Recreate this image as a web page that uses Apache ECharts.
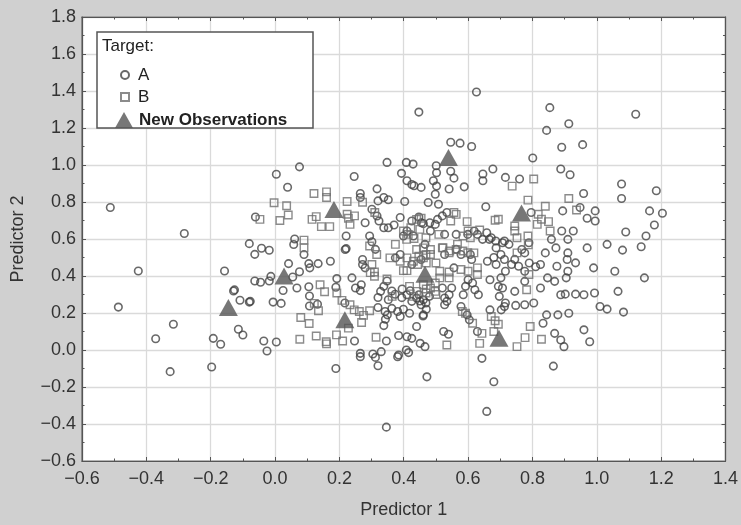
<!DOCTYPE html>
<html><head><meta charset="utf-8">
<script src="https://cdn.jsdelivr.net/npm/echarts@6/dist/echarts.min.js"></script>
<style>html,body{margin:0;padding:0;background:#d0d0d0}#c{width:741px;height:525px}</style>
</head><body><div id="c"></div>
<script>
const xTicks = [-0.6,-0.4,-0.2,0.0,0.2,0.4,0.6,0.8,1.0,1.2,1.4];
const yTicks = [-0.6,-0.4,-0.2,0.0,0.2,0.4,0.6,0.8,1.0,1.2,1.4,1.6,1.8];
const seriesNames = ['A','B','New Observations'];

const targetA = [
[-0.512,0.77],[-0.282,0.63],[-0.425,0.427],[-0.487,0.232],[-0.316,0.139],[-0.371,0.061],[-0.326,-0.117],[-0.197,-0.092],[-0.192,0.063],[-0.169,0.031],[-0.157,0.427],[-0.129,0.319],[-0.126,0.325],[-0.109,0.269],[-0.08,0.259],[-0.077,0.263],[-0.114,0.112],[-0.1,0.081],[-0.08,0.575],[-0.063,0.517],[-0.042,0.55],[-0.018,0.539],[-0.063,0.373],[-0.045,0.366],[-0.018,0.373],[-0.013,0.398],[-0.006,0.259],[-0.035,0.049],[-0.025,-0.005],[0.004,0.043],[-0.061,0.719],[0.004,0.95],
[0.039,0.88],[0.076,0.99],[0.061,0.60],[0.058,0.57],[0.09,0.516],[0.042,0.467],[0.055,0.395],[0.025,0.322],[0.019,0.252],[0.068,0.335],[0.105,0.467],[0.108,0.444],[0.134,0.467],[0.172,0.48],[0.105,0.342],[0.107,0.292],[0.107,0.238],[0.132,0.247],[0.192,0.386],[0.189,0.339],[0.189,-0.1],[0.076,0.423],
[0.246,0.938],[0.265,0.846],[0.265,0.824],[0.317,0.871],[0.32,0.806],[0.338,0.824],[0.352,0.812],[0.301,0.761],[0.221,0.616],[0.218,0.543],[0.221,0.548],[0.28,0.688],[0.294,0.616],[0.301,0.585],[0.323,0.697],[0.338,0.661],[0.352,0.661],[0.37,0.676],[0.272,0.489],[0.272,0.462],[0.28,0.444],[0.239,0.39],[0.25,0.335],[0.265,0.321],[0.268,0.353],[0.328,0.317],[0.338,0.344],[0.374,0.498],[0.389,0.516],[0.217,0.254],[0.32,0.284],[0.32,0.23],[0.342,0.208],[0.349,0.19],[0.247,0.049],[0.338,0.132],[0.346,0.049],[0.265,-0.018],[0.265,-0.036],[0.304,-0.022],[0.32,-0.085],[0.33,-0.009],[0.384,0.078],[0.384,-0.027],[0.346,-0.417],[0.348,1.014],[0.403,0.803],[0.389,0.716],[0.352,0.272],[0.381,0.208],[0.389,0.181],
[0.317,0.724],[0.312,0.544],[0.343,0.166],[0.312,-0.04],[0.399,0.22],[0.363,0.225],[0.348,0.373],[0.363,0.319],[0.373,0.301],[0.394,0.283],
[0.408,1.014],[0.429,1.005],[0.393,0.955],[0.41,0.915],[0.432,0.888],[0.454,0.879],[0.447,1.286],[0.492,0.915],[0.501,0.996],[0.498,0.842],[0.476,0.797],[0.508,0.788],[0.546,0.966],[0.556,0.929],[0.546,1.123],[0.575,1.118],[0.611,1.1],[0.541,0.87],[0.588,0.882],[0.646,0.915],[0.646,0.951],[0.677,0.978],[0.626,1.395],[0.425,0.697],[0.447,0.719],[0.461,0.683],[0.41,0.643],[0.399,0.616],[0.483,0.643],[0.505,0.706],[0.52,0.725],[0.534,0.743],[0.498,0.679],[0.527,0.625],[0.563,0.625],[0.629,0.625],[0.658,0.634],[0.672,0.607],[0.425,0.462],[0.454,0.489],[0.527,0.516],[0.578,0.516],[0.607,0.516],[0.611,0.489],[0.556,0.444],[0.6,0.38],[0.592,0.344],[0.614,0.362],[0.621,0.326],[0.632,0.299],[0.585,0.299],[0.41,0.299],[0.52,0.335],[0.447,0.299],[0.44,0.281],[0.461,0.272],[0.454,0.245],[0.469,0.254],[0.425,0.263],[0.418,0.199],[0.461,0.19],[0.527,0.245],[0.541,0.299],[0.549,0.335],[0.527,0.281],[0.534,0.263],[0.578,0.235],[0.44,0.127],[0.41,0.072],[0.425,0.063],[0.451,0.036],[0.466,0.018],[0.408,0.0],[0.415,-0.014],[0.381,-0.036],[0.524,0.1],[0.539,0.085],[0.472,-0.145],[0.604,0.163],[0.597,0.19],
[0.502,0.958],[0.502,0.886],[0.425,0.895],[0.46,0.184],
[0.455,0.688],[0.481,0.688],[0.43,0.616],[0.466,0.571],[0.599,0.625],[0.619,0.643],[0.645,0.598],[0.666,0.598],[0.686,0.589],[0.707,0.58],[0.727,0.571],[0.563,0.544],[0.66,0.48],[0.68,0.5],[0.745,0.49],[0.79,0.47],[0.81,0.45],[0.395,0.33],[0.42,0.32],[0.45,0.265],[0.48,0.29],[0.47,0.22],
[0.655,0.774],[0.716,0.933],[0.76,0.924],[0.801,1.038],[0.796,0.743],[0.789,0.58],[0.713,0.589],[0.687,0.552],[0.702,0.516],[0.713,0.489],[0.687,0.462],[0.767,0.543],[0.776,0.525],[0.735,0.462],[0.757,0.453],[0.776,0.426],[0.716,0.426],[0.702,0.39],[0.668,0.38],[0.694,0.344],[0.707,0.335],[0.697,0.29],[0.745,0.317],[0.776,0.371],[0.716,0.254],[0.713,0.235],[0.703,0.217],[0.748,0.241],[0.776,0.245],[0.804,0.254],[0.668,0.217],[0.629,0.1],[0.643,-0.045],[0.68,-0.172],[0.658,-0.332],[0.833,0.145],
[0.854,1.31],[0.844,1.187],[0.913,1.223],[0.891,1.096],[0.956,1.11],[0.888,0.978],[0.917,0.947],[0.959,0.846],[0.948,0.77],[0.894,0.752],[0.927,0.643],[0.97,0.712],[0.995,0.752],[0.995,0.697],[0.859,0.598],[0.91,0.598],[0.891,0.643],[0.873,0.552],[0.91,0.525],[0.908,0.489],[0.934,0.471],[0.97,0.552],[0.84,0.525],[0.825,0.462],[0.876,0.453],[0.91,0.426],[0.869,0.371],[0.905,0.39],[0.847,0.39],[0.825,0.335],[0.888,0.299],[0.902,0.302],[0.934,0.302],[0.96,0.299],[0.993,0.308],[0.99,0.444],[0.844,0.19],[0.879,0.19],[0.913,0.199],[0.869,0.09],[0.888,0.054],[0.898,0.018],[0.96,0.109],[0.978,0.045],[0.865,-0.087],
[1.121,1.274],[1.077,0.897],[1.077,0.819],[1.185,0.861],[1.164,0.752],[1.204,0.739],[1.179,0.676],[1.09,0.638],[1.153,0.616],[1.138,0.558],[1.032,0.571],[1.08,0.54],[1.056,0.426],[1.148,0.39],[1.066,0.317],[1.01,0.235],[1.032,0.221],[1.083,0.205]
];

const targetB = [
[-0.047,0.706],[-0.003,0.796],[0.036,0.78],[0.015,0.70],[0.041,0.73],[0.09,0.594],[0.09,0.552],[0.121,0.846],[0.16,0.855],[0.16,0.824],[0.128,0.721],[0.115,0.706],[0.144,0.667],[0.17,0.667],[0.14,0.353],[0.154,0.315],[0.122,0.252],[0.135,0.212],[0.08,0.176],[0.106,0.143],[0.077,0.058],[0.128,0.076],[0.159,0.045],[0.16,0.033],[0.192,0.308],[0.208,0.268],[0.191,0.082],
[0.224,0.803],[0.224,0.734],[0.228,0.712],[0.247,0.725],[0.233,0.679],[0.272,0.799],[0.31,0.743],[0.294,0.562],[0.316,0.516],[0.301,0.462],[0.309,0.422],[0.309,0.399],[0.348,0.384],[0.357,0.498],[0.374,0.571],[0.389,0.48],[0.233,0.245],[0.246,0.217],[0.262,0.208],[0.275,0.187],[0.294,0.212],[0.228,0.118],[0.269,0.149],[0.21,0.049],[0.314,0.069],[0.364,0.29],[0.296,0.418],
[0.454,0.712],[0.422,0.661],[0.432,0.603],[0.469,0.607],[0.556,0.743],[0.546,0.697],[0.509,0.625],[0.597,0.694],[0.6,0.643],[0.636,0.649],[0.607,0.607],[0.44,0.543],[0.461,0.552],[0.483,0.543],[0.469,0.516],[0.447,0.507],[0.461,0.498],[0.483,0.516],[0.41,0.498],[0.399,0.429],[0.41,0.429],[0.443,0.462],[0.52,0.552],[0.541,0.525],[0.567,0.571],[0.563,0.543],[0.618,0.525],[0.512,0.426],[0.541,0.39],[0.541,0.422],[0.578,0.435],[0.6,0.426],[0.629,0.444],[0.629,0.408],[0.418,0.344],[0.44,0.317],[0.461,0.353],[0.483,0.335],[0.498,0.362],[0.512,0.39],[0.498,0.317],[0.469,0.308],[0.582,0.208],[0.592,0.199],[0.534,0.027],[0.614,0.145],
[0.44,0.706],[0.45,0.652],[0.563,0.733],[0.399,0.643],[0.414,0.625],[0.409,0.598],[0.522,0.553],[0.543,0.535],[0.584,0.535],[0.599,0.526],[0.584,0.616],[0.43,0.48],[0.47,0.47],[0.5,0.47],[0.43,0.29],[0.47,0.33],[0.5,0.3],
[0.804,0.924],[0.786,0.81],[0.84,0.777],[0.818,0.734],[0.828,0.707],[0.85,0.694],[0.815,0.679],[0.694,0.707],[0.684,0.701],[0.745,0.67],[0.745,0.643],[0.752,0.607],[0.786,0.616],[0.752,0.525],[0.789,0.408],[0.782,0.326],[0.672,0.181],[0.684,0.158],[0.694,0.139],[0.636,0.036],[0.643,0.09],[0.68,0.1],[0.752,0.018],[0.777,0.067],[0.793,0.127],[0.828,0.058],[0.737,0.886],[0.913,0.819],[0.937,0.757],[0.855,0.643],[0.787,0.568]
];

const newObsX = [-0.145, 0.028, 0.183, 0.217, 0.466, 0.539, 0.696, 0.766];
const newObsY = [0.23, 0.40, 0.76, 0.163, 0.41, 1.04, 0.063, 0.74];

const FONT = "'Liberation Sans', Arial, sans-serif";
const fmt = v => (Math.round(v*10)/10).toFixed(1).replace('-', '\u2212');

const xBase = {
  type: 'value', min: xTicks[0], max: xTicks[xTicks.length-1], interval: 0.2,
  axisLine: {show: true, onZero: false, lineStyle: {color: '#555', width: 1.2}},
  axisTick: {show: true, inside: true, length: 4, lineStyle: {color: '#555'}},
  minorTick: {show: true, splitNumber: 2, length: 2.5, lineStyle: {color: '#555'}},
};
const yBase = {
  type: 'value', min: yTicks[0], max: yTicks[yTicks.length-1], interval: 0.2,
  axisLine: {show: true, onZero: false, lineStyle: {color: '#555', width: 1.2}},
  axisTick: {show: true, inside: true, length: 4, lineStyle: {color: '#555'}},
  minorTick: {show: true, splitNumber: 2, length: 2.5, lineStyle: {color: '#555'}},
};

const chart = echarts.init(document.getElementById('c'), null, {renderer: 'canvas'});
chart.setOption({
  backgroundColor: '#d0d0d0',
  animation: false,
  grid: {left: 82, right: 9, top: 17, bottom: 64, show: true, backgroundColor: '#ffffff', borderColor: '#555', borderWidth: 1.2},
  xAxis: [
    Object.assign({}, xBase, {
      position: 'bottom',
      name: 'Predictor 1', nameLocation: 'middle', nameGap: 40,
      nameTextStyle: {fontSize: 18, color: '#333', fontFamily: FONT},
      axisLabel: {formatter: fmt, fontSize: 18, color: '#333', fontFamily: FONT, margin: 9},
      splitLine: {show: true, lineStyle: {color: '#dadada', width: 1.3}}
    }),
    Object.assign({}, xBase, {position: 'top', axisLabel: {show: false}, splitLine: {show: false}})
  ],
  yAxis: [
    Object.assign({}, yBase, {
      position: 'left',
      name: 'Predictor 2', nameLocation: 'middle', nameGap: 55, nameRotate: 90,
      nameTextStyle: {fontSize: 18, color: '#333', fontFamily: FONT},
      axisLabel: {formatter: fmt, fontSize: 18, color: '#333', fontFamily: FONT, margin: 6},
      splitLine: {show: true, lineStyle: {color: '#dadada', width: 1.3}}
    }),
    Object.assign({}, yBase, {position: 'right', axisLabel: {show: false}, splitLine: {show: false}})
  ],
  graphic: [
    {type: 'rect', z: 3, shape: {x: 97, y: 32, width: 216, height: 96},
     style: {fill: '#ffffff', stroke: '#555', lineWidth: 1.5}},
    {type: 'text', z: 4, left: 102, top: 38,
     style: {text: 'Target:', fontSize: 17, fill: '#222', fontFamily: FONT}}
  ],
  legend: [
    {data: [seriesNames[0], seriesNames[1]], orient: 'vertical', left: 115, top: 61,
     itemWidth: 8, itemHeight: 8, itemGap: 4, z: 5,
     textStyle: {fontSize: 17, color: '#222', fontFamily: FONT, lineHeight: 18, padding: [0,0,0,4]}},
    {data: [seriesNames[2]], orient: 'vertical', left: 110, top: 106,
     itemWidth: 18, itemHeight: 16, z: 5,
     textStyle: {fontSize: 17, fontWeight: 'bold', color: '#222', fontFamily: FONT, lineHeight: 18, padding: [0,0,0,1]}}
  ],
  series: [
    {name: seriesNames[0], type: 'scatter', data: targetA, symbol: 'circle', symbolSize: 7.5,
     itemStyle: {color: 'rgba(255,255,255,0)', borderColor: '#444444', borderWidth: 1.6}},
    {name: seriesNames[1], type: 'scatter', data: targetB, symbol: 'rect', symbolSize: 7.5,
     itemStyle: {color: 'rgba(255,255,255,0)', borderColor: '#6e6e6e', borderWidth: 1.4}},
    {name: seriesNames[2], type: 'scatter', data: newObsX.map((x,i) => [x, newObsY[i]]), symbol: 'triangle', symbolSize: [19,17], z: 3,
     itemStyle: {color: '#555555'}}
  ]
});
</script></body></html>
